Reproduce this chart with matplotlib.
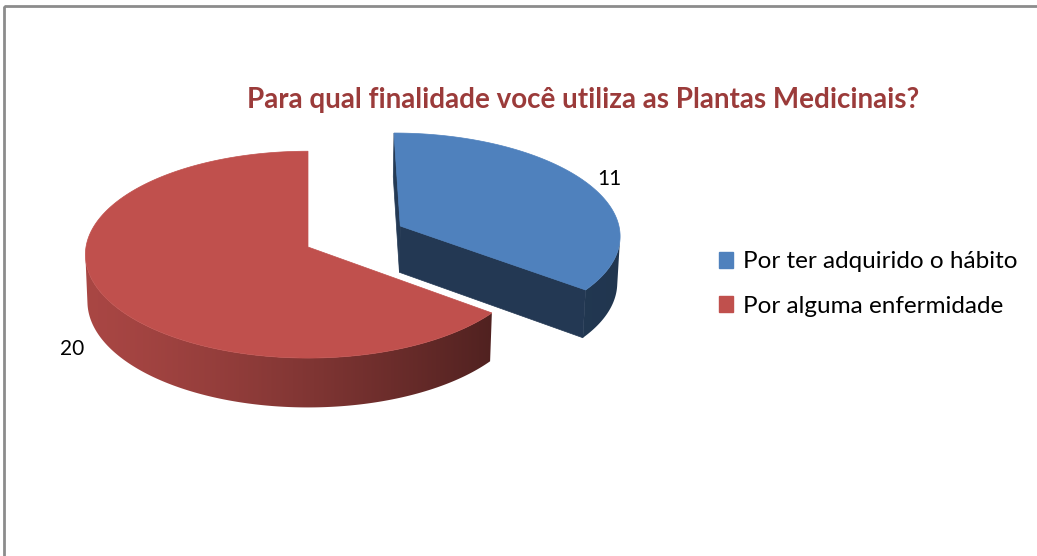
import numpy as np
import matplotlib.pyplot as plt
from matplotlib.patches import Polygon, Rectangle, Patch
from matplotlib.colors import to_rgb

plt.rcParams['font.family'] = ['Lato', 'DejaVu Sans']

# dados
categorias = ['Por ter adquirido o hábito', 'Por alguma enfermidade']
valores = [11, 20]
cores = ['#4F81BD', '#C0504D']
titulo = 'Para qual finalidade você utiliza as Plantas Medicinais?'

# geometria da pizza 3D (pixels)
W, H = 1037, 556
CX, CY = 308, 247
S = 222
phi = np.radians(27.6)
D = 12.0
esp = 0.24
explode = [0.47, 0.0]
# sombreamento das laterais (esquerda, direita)
sombra = [(0.46, 0.42), (0.88, 0.42)]
rot_r = [1.12, 1.15]
rot_h = [0.0, -esp]

cam = np.array([0.0, -D * np.cos(phi), D * np.sin(phi)])


def proj(X, Z, h):
    v = Z * np.sin(phi) + h * np.cos(phi)
    d = Z * np.cos(phi) - h * np.sin(phi)
    s = D / (D + d)
    return CX + S * X * s, CY - S * v * s


def visivel(ang, px, pz):
    n = np.array([np.cos(ang), np.sin(ang), 0.0])
    p = np.array([px, pz, 0.0])
    return np.dot(n, cam - p) > 0


def tom(cor, f):
    return tuple(np.clip(np.array(to_rgb(cor)) * f, 0, 1))


fig = plt.figure(figsize=(W / 100, H / 100), dpi=100)
ax = fig.add_axes([0, 0, 1, 1])
ax.set_xlim(0, W)
ax.set_ylim(H, 0)
ax.axis('off')

total = sum(valores)
fatias = []
a0 = 90.0
for i, v in enumerate(valores):
    a1 = a0 - 360.0 * v / total
    fatias.append((i, np.radians(a0), np.radians(a1)))
    a0 = a1


# desenha do fundo para a frente
def prof(f):
    i, a, b = f
    m = (a + b) / 2
    return explode[i] * np.sin(m) + 0.3 * np.sin(m)


for i, a, b in sorted(fatias, key=prof, reverse=True):
    m = (a + b) / 2
    X0, Z0 = explode[i] * np.cos(m), explode[i] * np.sin(m)
    th = np.linspace(a, b, 400)
    cor = cores[i]
    vx, vy = proj(X0, Z0, 0)
    xs_all = proj(X0 + np.cos(th), Z0 + np.sin(th), 0)[0]
    xmin, xmax = min(xs_all.min(), vx), max(xs_all.max(), vx)
    fl, fr = sombra[i]

    def fator(x):
        t = np.clip((x - xmin) / (xmax - xmin), 0, 1)
        return fl - (fl - fr) * t ** 1.3

    # faces radiais
    for ang, nang in [(a, a + np.pi / 2), (b, b - np.pi / 2)]:
        if visivel(nang, X0 + 0.5 * np.cos(ang), Z0 + 0.5 * np.sin(ang)):
            pts3 = [(X0, Z0, 0), (X0 + np.cos(ang), Z0 + np.sin(ang), 0),
                    (X0 + np.cos(ang), Z0 + np.sin(ang), -esp), (X0, Z0, -esp)]
            pts = [proj(*p) for p in pts3]
            xc = np.mean([p[0] for p in pts])
            c = tom(cor, fator(xc) * 0.98)
            ax.add_patch(Polygon(pts, closed=True, facecolor=c, edgecolor=c, lw=0.5))

    # parede externa (parte visível) com degradê horizontal
    tm = (th[:-1] + th[1:]) / 2
    vis = np.array([visivel(t, X0 + np.cos(t), Z0 + np.sin(t)) for t in tm])
    if vis.any():
        tv = np.r_[th[:-1][vis], th[1:][vis][-1]]
        x1, y1 = proj(X0 + np.cos(tv), Z0 + np.sin(tv), 0)
        x2, y2 = proj(X0 + np.cos(tv), Z0 + np.sin(tv), -esp)
        wall = np.column_stack([np.r_[x1, x2[::-1]], np.r_[y1, y2[::-1]]])
        c_med = tom(cor, fator(wall[:, 0].mean()))
        wp = Polygon(wall, closed=True, facecolor='none', edgecolor='none')
        ax.add_patch(wp)
        x_lo, x_hi = wall[:, 0].min() - 1, wall[:, 0].max() + 1
        y_lo, y_hi = wall[:, 1].min() - 1, wall[:, 1].max() + 1
        gx = np.linspace(x_lo, x_hi, 300)
        grad = np.array([tom(cor, fator(x)) for x in gx])[None, :, :]
        im = ax.imshow(np.repeat(grad, 2, axis=0), extent=(x_lo, x_hi, y_hi, y_lo),
                       aspect='auto', interpolation='bilinear')
        im.set_clip_path(wp)

    # topo
    tx, ty = proj(X0 + np.cos(th), Z0 + np.sin(th), 0)
    top = np.column_stack([np.r_[vx, tx], np.r_[vy, ty]])
    ax.add_patch(Polygon(top, closed=True, facecolor=cor, edgecolor=cor, lw=0.5))

    # rótulo de dados
    lx, ly = proj(X0 + rot_r[i] * np.cos(m), Z0 + rot_r[i] * np.sin(m), rot_h[i])
    ax.text(lx, ly, str(valores[i]), ha='center', va='center', fontsize=15, color='#000000')

ax.set_xlim(0, W)
ax.set_ylim(H, 0)

# título
ax.text(583, 100, titulo, ha='center', va='center', fontsize=20, fontweight='bold',
        color='#9B3B3A')

# legenda
handles = [Patch(facecolor=c, edgecolor=c) for c in cores]
fig.legend(handles, categorias, loc='center left', bbox_to_anchor=(709 / W, 1 - 284 / H),
           frameon=False, fontsize=17.5, handlelength=0.6, handleheight=0.6,
           handletextpad=0.4, labelspacing=0.95, borderaxespad=0)

# moldura do gráfico
ax.add_patch(Rectangle((4, 6), 2000, 2000, fill=False, edgecolor='#8c8c8c', lw=2))

fig.savefig('out.png', dpi=100)
